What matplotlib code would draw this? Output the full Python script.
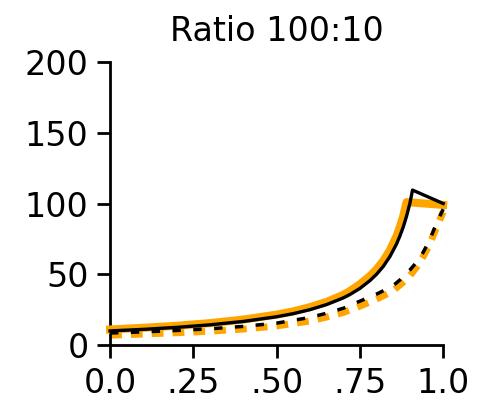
import matplotlib
matplotlib.use("Agg")
import matplotlib.pyplot as plt

# values
x_black_solid = [0.0, 0.1, 0.2, 0.3, 0.4, 0.5, 0.55, 0.6, 0.65, 0.7, 0.72, 0.75, 0.78, 0.8, 0.82,
                 0.84, 0.86, 0.87, 0.88, 0.89, 0.9, 0.908, 1.0]
y_black_solid = [10, 11.1, 12.5, 14.3, 16.7, 20, 22.2, 25, 28.6, 33.3, 35.7, 40, 45.5, 50, 55.5,
                 62.5, 71.4, 77, 83.3, 91, 100, 109.5, 100]

x_orange_solid = [0.0, 0.1, 0.2, 0.3, 0.4, 0.5, 0.55, 0.6, 0.65, 0.7, 0.72, 0.75, 0.78, 0.8, 0.82,
                  0.84, 0.86, 0.87, 0.88, 0.885, 0.89, 1.0]
y_orange_solid = [11, 12.2, 13.6, 15.5, 18, 21.5, 23.8, 26.8, 30.5, 35.5, 38.2, 43, 48.8, 53.5, 59.5,
                  67, 77, 83.5, 91, 96, 101, 99]

x_dashed = [0.0, 0.1, 0.2, 0.3, 0.4, 0.5, 0.6, 0.65, 0.7, 0.75, 0.8, 0.83, 0.85, 0.87, 0.88, 0.9,
            0.92, 0.94, 0.96, 0.98, 1.0]
y_black_dashed = [8.5, 9.3, 10.3, 11.5, 13.2, 15.5, 19.5, 22.5, 26, 31, 36, 39.5, 42, 46, 48, 53,
                  58.5, 65.5, 74.5, 86, 96]
y_orange_dashed = [7, 7.8, 8.7, 9.8, 11.3, 13.5, 17, 19.8, 23, 27.5, 32.5, 36, 38.5, 42.5, 44.5, 49,
                   55, 62.5, 71.5, 83, 94]

xticks = [0.0, 0.25, 0.5, 0.75, 1.0]
xtick_labels = ["0.0", ".25", ".50", ".75", "1.0"]
yticks = [0, 50, 100, 150, 200]

plt.rcParams["lines.scale_dashes"] = False

fig = plt.figure(figsize=(4.87, 4.05), dpi=100)
ax = fig.add_axes([0.226, 0.148, 0.684, 0.699])

orange = "#FFA500"
ax.plot(x_dashed, y_orange_dashed, color=orange, lw=5, dashes=(8.5, 6.5), clip_on=False, zorder=2)
ax.plot(x_orange_solid, y_orange_solid, color=orange, lw=5.8, clip_on=False, zorder=3)
ax.plot(x_dashed, y_black_dashed, color="black", lw=2.5, dashes=(6, 9), clip_on=False, zorder=4)
ax.plot(x_black_solid, y_black_solid, color="black", lw=2.4, clip_on=False, zorder=5)

ax.set_xlim(0, 1)
ax.set_ylim(0, 200)
ax.set_xticks(xticks)
ax.set_xticklabels(xtick_labels)
ax.set_yticks(yticks)

for side in ["top", "right"]:
    ax.spines[side].set_visible(False)
for side in ["left", "bottom"]:
    ax.spines[side].set_linewidth(2)

ax.tick_params(axis="both", length=9.5, width=2, labelsize=24, pad=6)
ax.set_title("Ratio 100:10", fontsize=24, pad=15)

fig.savefig("out.png", dpi=100)
